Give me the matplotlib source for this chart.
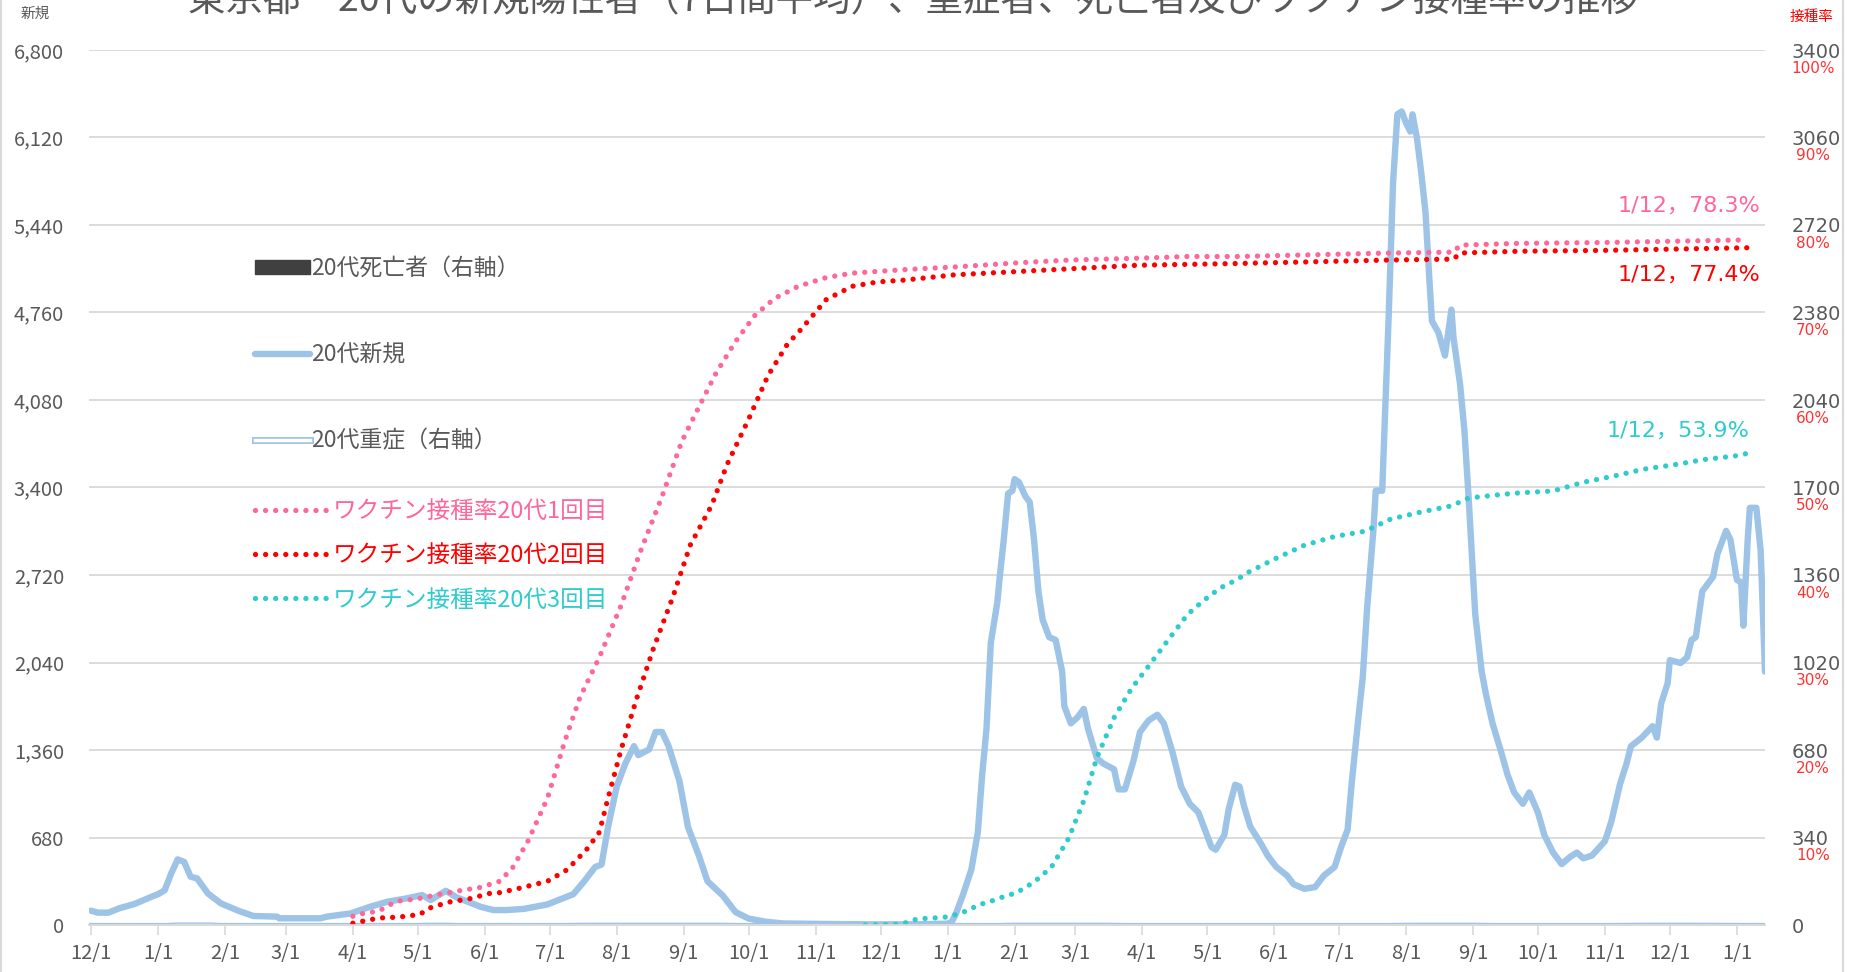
import matplotlib
matplotlib.use('Agg')
import matplotlib.pyplot as plt
import numpy as np
import pandas as pd
from matplotlib.lines import Line2D
from matplotlib.patches import Patch

plt.rcParams['font.family'] = ['Noto Sans CJK JP', 'DejaVu Sans']

BaseDate = pd.Timestamp('2020-12-01')

# 20代新規 (7日間平均), day offsets from 2020-12-01
NewDays = [0, 3, 8, 13, 20, 28, 31, 34, 37, 40, 43, 46, 49, 54, 60, 68, 75, 86, 87, 106,
           109, 120, 129, 137, 146, 153, 157, 164, 169, 180, 186, 192, 200, 211, 223, 228, 233, 236, 239, 243,
           247, 251, 253, 258, 261, 264, 267, 272, 276, 281, 285, 292, 298, 304, 312, 320, 340, 360, 380, 396,
           398, 400, 403, 407, 410, 412, 414, 416, 419, 420, 422, 424, 426, 427, 429, 432, 434, 436, 438, 440,
           443, 446, 449, 450, 453, 456, 459, 461, 465, 468, 473, 475, 478, 482, 485, 489, 493, 496, 500, 504,
           508, 512, 515, 518, 520, 524, 526, 529, 531, 533, 536, 541, 544, 548, 553, 556, 561, 566, 570, 575,
           578, 581, 583, 586, 588, 590, 593, 594, 597, 600, 602, 604, 606, 608, 610, 611, 613, 615, 617, 619,
           620, 623, 626, 629, 630, 633, 635, 637, 640, 643, 645, 648, 652, 655, 658, 662, 665, 669, 672, 676,
           680, 684, 687, 690, 694, 700, 703, 707, 710, 712, 717, 722, 724, 726, 729, 730, 735, 738, 740, 742,
           745, 750, 752, 756, 758, 761, 763, 764, 766, 767, 770, 772, 774]
NewCases = [111, 96, 96, 130, 163, 220, 240, 270, 400, 510, 490, 375, 362, 245, 168, 111, 70, 65, 52, 52,
            65, 90, 142, 181, 207, 233, 194, 266, 215, 142, 116, 116, 125, 160, 240, 340, 450, 470, 760, 1075,
            1255, 1390, 1320, 1365, 1500, 1500, 1390, 1120, 760, 540, 340, 230, 100, 50, 25, 12, 8, 5, 5, 10,
            25, 94, 228, 430, 720, 1165, 1523, 2192, 2505, 2683, 2996, 3353, 3375, 3465, 3442, 3331, 3286, 2996, 2594, 2371,
            2237, 2215, 1969, 1701, 1567, 1612, 1679, 1523, 1299, 1255, 1210, 1054, 1054, 1277, 1500, 1590, 1634, 1567, 1344, 1076,
            942, 875, 741, 607, 585, 700, 900, 1090, 1076, 930, 764, 630, 540, 451, 384, 317, 281, 295, 384, 451,
            607, 741, 1121, 1612, 1924, 2460, 3085, 3375, 3375, 4737, 5764, 6300, 6322, 6233, 6166, 6300, 6121, 5854, 5541, 4960,
            4693, 4604, 4425, 4782, 4559, 4202, 3844, 3309, 2416, 1969, 1790, 1567, 1344, 1165, 1031, 942, 1030, 875, 697, 563,
            473, 531, 563, 518, 540, 652, 808, 1098, 1255, 1389, 1456, 1545, 1456, 1723, 1880, 2058, 2036, 2081, 2215, 2237,
            2594, 2706, 2884, 3063, 2996, 2683, 2661, 2326, 2996, 3242, 3242, 2907, 1969]

# ワクチン接種率 (%)
Dose1Days = [121, 123, 133, 141, 151, 161, 170, 180, 189, 195, 202, 211, 219, 226, 235, 245, 254, 264, 273, 281,
             289, 298, 307, 316, 327, 340, 352, 364, 376, 399, 430, 453, 484, 507, 530, 601, 630, 633, 660, 700, 766]
Dose1Rate = [1.0, 1.2, 1.6, 2.7, 3.0, 3.5, 3.9, 4.3, 5.0, 6.6, 9.6, 14.5, 21.0, 26.0, 30.6, 36.5, 42.7, 49.0, 55.2, 59.2,
             63.1, 66.7, 69.7, 71.6, 73.0, 74.0, 74.5, 74.7, 74.9, 75.2, 75.7, 76.0, 76.2, 76.4, 76.4, 76.8, 76.9, 77.7, 77.9, 78.0, 78.3]
Dose2Days = [121, 123, 133, 142, 152, 156, 165, 175, 184, 189, 198, 211, 220, 229, 235, 239, 245, 252, 260, 269,
             277, 287, 294, 304, 313, 322, 328, 340, 352, 364, 376, 399, 430, 453, 484, 507, 530, 601, 630, 633, 660, 700, 766]
Dose2Rate = [0.2, 0.3, 0.8, 0.9, 1.2, 1.9, 2.6, 3.0, 3.6, 3.7, 4.2, 5.0, 6.3, 8.6, 10.6, 14.5, 20.0, 25.7, 31.6, 37.5,
             43.4, 48.0, 52.6, 57.8, 62.8, 66.4, 68.0, 71.5, 73.0, 73.5, 73.7, 74.3, 74.7, 75.0, 75.4, 75.5, 75.6, 76.0, 76.1, 76.8, 77.0, 77.1, 77.4]
Dose3Days = [358, 368, 373, 377, 382, 392, 397, 401, 406, 410, 415, 419, 428, 436, 444, 452, 459, 465, 473, 481,
             489, 499, 507, 515, 522, 530, 535, 547, 561, 575, 589, 601, 615, 629, 637, 652, 661, 676, 690, 704,
             718, 732, 746, 760, 766]
Dose3Rate = [0.0, 0.05, 0.1, 0.27, 0.7, 0.84, 0.95, 1.3, 1.7, 2.3, 2.6, 3.0, 3.7, 4.9, 6.6, 9.9, 14.2, 19.1, 23.7, 27.0,
             29.6, 32.9, 35.5, 37.2, 38.5, 39.5, 40.3, 41.8, 43.4, 44.4, 45.0, 46.4, 47.2, 47.9, 48.8, 49.2, 49.4, 49.6, 50.6, 51.3,
             52.1, 52.6, 53.2, 53.6, 53.9]

# 20代重症 / 20代死亡者 (右軸)
SevereDays = [0, 35, 40, 55, 60, 150, 155, 165, 170, 215, 230, 290, 300, 420, 425, 470, 480, 600, 610, 640, 650, 700, 720, 740, 774]
SevereCount = [0, 0, 2, 2, 0, 0, 1, 1, 0, 0, 1, 1, 0, 0, 1, 1, 0, 0, 1, 1, 0, 0, 1, 1, 0]
DeathDays = [441, 450, 510, 520, 525, 534, 540, 701, 767, 770]
DeathCount = [1, 1, 1, 1, 1, 1, 1, 1, 1, 1]

DoseLabels = ['ワクチン接種率20代1回目', 'ワクチン接種率20代2回目', 'ワクチン接種率20代3回目']
EndLabels = ['1/12，78.3%', '1/12，77.4%', '1/12，53.9%']

Title = '東京都　20代の新規陽性者（7日間平均）、重症者、死亡者及びワクチン接種率の推移'

BLUE = '#9DC3E6'
PINK = '#FF6699'
RED = '#FF0000'
CYAN = '#2ECCCC'
GRAY = '#595959'
GRID = '#D9D9D9'

W, H = 1857, 972
fig = plt.figure(figsize=(W / 100, H / 100), dpi=100)
ax = fig.add_axes([89 / W, 1 - 925 / H, (1765 - 89) / W, (925 - 50) / H])

ax.plot(NewDays, NewCases, color=BLUE, lw=4.6, solid_joinstyle='round', solid_capstyle='round', zorder=3)

ax2 = ax.twinx()
ax2.bar(DeathDays, DeathCount, width=1.0, color='#404040')
ax2.plot(SevereDays, SevereCount, color=BLUE, lw=3.0)
ax2.plot(SevereDays, SevereCount, color='white', lw=1.0)

dots = dict(lw=3.8, ls=(0, (0.01, 1.9)), dash_capstyle='round')
ax2.plot(Dose1Days, np.array(Dose1Rate) * 34, color=PINK, **dots)
ax2.plot(Dose2Days, np.array(Dose2Rate) * 34, color=RED, **dots)
ax2.plot(Dose3Days, np.array(Dose3Rate) * 34, color=CYAN, **dots)

# axes
ax.set_xlim(-1, 774)
ax.set_ylim(0, 6800)
ax2.set_ylim(0, 3400)

months = pd.date_range('2020-12-01', '2023-01-01', freq='MS')
ax.set_xticks([(m - BaseDate).days for m in months])
ax.set_xticklabels([f'{m.month}/1' for m in months])
ax.tick_params(axis='x', length=7, width=1.2, color=GRID, pad=6, labelsize=14.5, labelcolor=GRAY)

ax.set_yticks(range(0, 6801, 680))
ax.set_yticklabels([f'{v:,}' for v in range(0, 6801, 680)])
ax.tick_params(axis='y', length=0, pad=18, labelsize=14.5, labelcolor=GRAY)
ax.grid(axis='y', color=GRID, lw=1.3)
ax.set_axisbelow(True)

ax2.set_yticks(range(0, 3401, 340))
ax2.set_yticklabels([str(v) for v in range(0, 3401, 340)])
ax2.tick_params(axis='y', length=0, pad=19, labelsize=14, labelcolor=GRAY)
for t in ax2.get_yticklabels():
    t.set_fontfamily('DejaVu Sans')
for i, v in enumerate(range(340, 3401, 340)):
    ax2.annotate(f'{(i + 1) * 10}%', xy=(1, v), xycoords=('axes fraction', 'data'),
                 xytext=(34.5, -13), textcoords='offset points', ha='center', va='center',
                 color='#FF3333', fontsize=11, family='DejaVu Sans')

for a in (ax, ax2):
    for s in ('top', 'left', 'right'):
        a.spines[s].set_visible(False)
    a.spines['bottom'].set_color(GRID)
    a.spines['bottom'].set_linewidth(1.3)

# end labels
ends = [(Dose1Days[-1], Dose1Rate[-1], PINK, (9, 25)),
        (Dose2Days[-1], Dose2Rate[-1], RED, (9, -19.5)),
        (Dose3Days[-1], Dose3Rate[-1], CYAN, (1.5, 16.5))]
for (d, r, c, off), lab in zip(ends, EndLabels):
    ax2.annotate(lab, xy=(d, r * 34), xytext=off, textcoords='offset points', ha='right', va='center',
                 color=c, fontsize=16, family=['DejaVu Sans', 'Noto Sans CJK JP'])

# legends
h_death = Patch(facecolor='#404040', edgecolor='#404040')
h_new = Line2D([], [], color=BLUE, lw=4.6, solid_capstyle='round')
h_sev = (Line2D([], [], color=BLUE, lw=5), Line2D([], [], color='white', lw=2.5))
leg1 = fig.legend([h_death, h_new, h_sev], ['20代死亡者（右軸）', '20代新規', '20代重症（右軸）'],
                  loc='upper left', bbox_to_anchor=(255 / W, 1 - 257 / H), frameon=False, fontsize=16.5,
                  labelcolor=GRAY, handlelength=2.4, handletextpad=0.05, labelspacing=2.75,
                  borderpad=0, borderaxespad=0, handleheight=0.55)
h_d = [Line2D([], [], color=c, **dots) for c in (PINK, RED, CYAN)]
leg2 = fig.legend(h_d, DoseLabels, loc='upper left', bbox_to_anchor=(255 / W, 1 - 500 / H), frameon=False,
                  fontsize=17, labelcolor=[PINK, RED, CYAN], handlelength=3.0, handletextpad=0.3,
                  labelspacing=0.9, borderpad=0, borderaxespad=0)

# texts
fig.text(913 / W, 1 - 10 / H, Title, ha='center', va='baseline', fontsize=27, color=GRAY)
fig.text(35 / W, 1 - 14 / H, '新規', ha='center', va='center', fontsize=10.5, color=GRAY)
fig.text(1812 / W, 1 - 17 / H, '接種率', ha='center', va='center', fontsize=10.5, color=RED)

# chart border
for xb in (1, 1843):
    fig.add_artist(Line2D([xb / W, xb / W], [0, 1], transform=fig.transFigure, color=GRID, lw=1.5))

fig.savefig('out.png', dpi=100)
